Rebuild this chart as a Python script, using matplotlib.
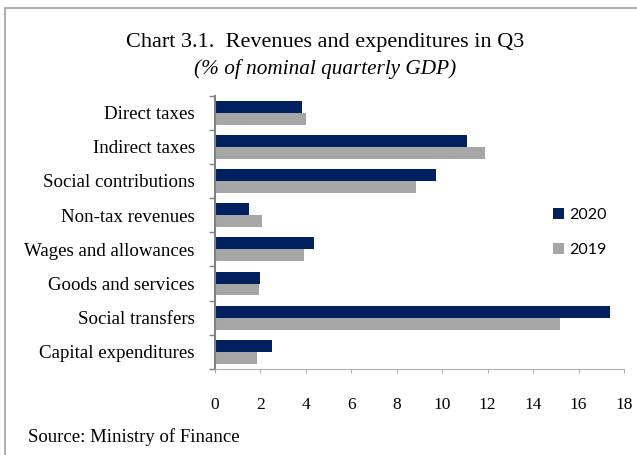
import numpy as np
import matplotlib.pyplot as plt
from matplotlib.patches import Rectangle

categories = ["Direct taxes", "Indirect taxes", "Social contributions",
              "Non-tax revenues", "Wages and allowances", "Goods and services",
              "Social transfers", "Capital expenditures"]
vals_2020 = [3.84, 11.08, 9.71, 1.48, 4.34, 1.96, 17.38, 2.49]
vals_2019 = [4.02, 11.87, 8.83, 2.05, 3.90, 1.92, 15.18, 1.87]
xticks = [0, 2, 4, 6, 8, 10, 12, 14, 16, 18]

navy = "#002060"
grey = "#a6a6a6"
plt.rcParams['font.family'] = ['Liberation Serif', 'DejaVu Serif']

fig = plt.figure(figsize=(6.37, 4.55), dpi=100)
W, H = 637, 455

# outer frame of the chart
fig.patches.append(Rectangle((5 / W, -0.1), 1.2, (H - 8) / H + 0.1,
                             transform=fig.transFigure, fill=False,
                             edgecolor="#a0a0a0", linewidth=1.2))

ax = fig.add_axes([215 / W, 1 - 369 / H, (624 - 215) / W, (369 - 95.5) / H])

y = np.arange(len(categories))
h = 0.35
ax.barh(y - h / 2, vals_2020, height=h, color=navy, label="2020")
ax.barh(y + h / 2, vals_2019, height=h, color=grey, label="2019")

ax.set_ylim(len(categories) - 0.5, -0.5)
ax.set_xlim(0, 18)

# y axis: category labels, ticks on category boundaries
ax.set_yticks(y)
ax.set_yticklabels(categories, fontsize=13.6)
ax.tick_params(axis="y", length=0, pad=14.5)
ax.set_yticks(np.arange(-0.5, len(categories), 1), minor=True)
ax.tick_params(axis="y", which="minor", length=4, color="#808080", width=1)

ax.set_xticks(xticks)
ax.set_xticklabels([str(t) for t in xticks], fontsize=12.5)
ax.tick_params(axis="x", length=3, color="#b0b0b0", width=0.8, pad=17)

for s in ["top", "right"]:
    ax.spines[s].set_visible(False)
ax.spines["left"].set_color("#808080")
ax.spines["left"].set_linewidth(1.5)
ax.spines["bottom"].set_color("#b0b0b0")
ax.spines["bottom"].set_linestyle((0, (1, 1)))
ax.spines["bottom"].set_linewidth(0.8)

ax.legend(loc="upper left", bbox_to_anchor=(539 / W, 1 - 194 / H),
          bbox_transform=fig.transFigure, frameon=False,
          prop={"family": "Lato", "size": 11.5},
          handlelength=0.65, handleheight=0.65, handletextpad=0.35,
          labelspacing=1.3)

fig.text(325 / W, 1 - 43 / H, "Chart 3.1.  Revenues and expenditures in Q3",
         ha="center", va="center", fontsize=16)
fig.text(325 / W, 1 - 69 / H, "(% of nominal quarterly GDP)",
         ha="center", va="center", fontsize=15.3, style="italic")
fig.text(28 / W, 1 - 437 / H, "Source: Ministry of Finance",
         ha="left", va="center", fontsize=13.5)

fig.savefig("out.png", dpi=100)
